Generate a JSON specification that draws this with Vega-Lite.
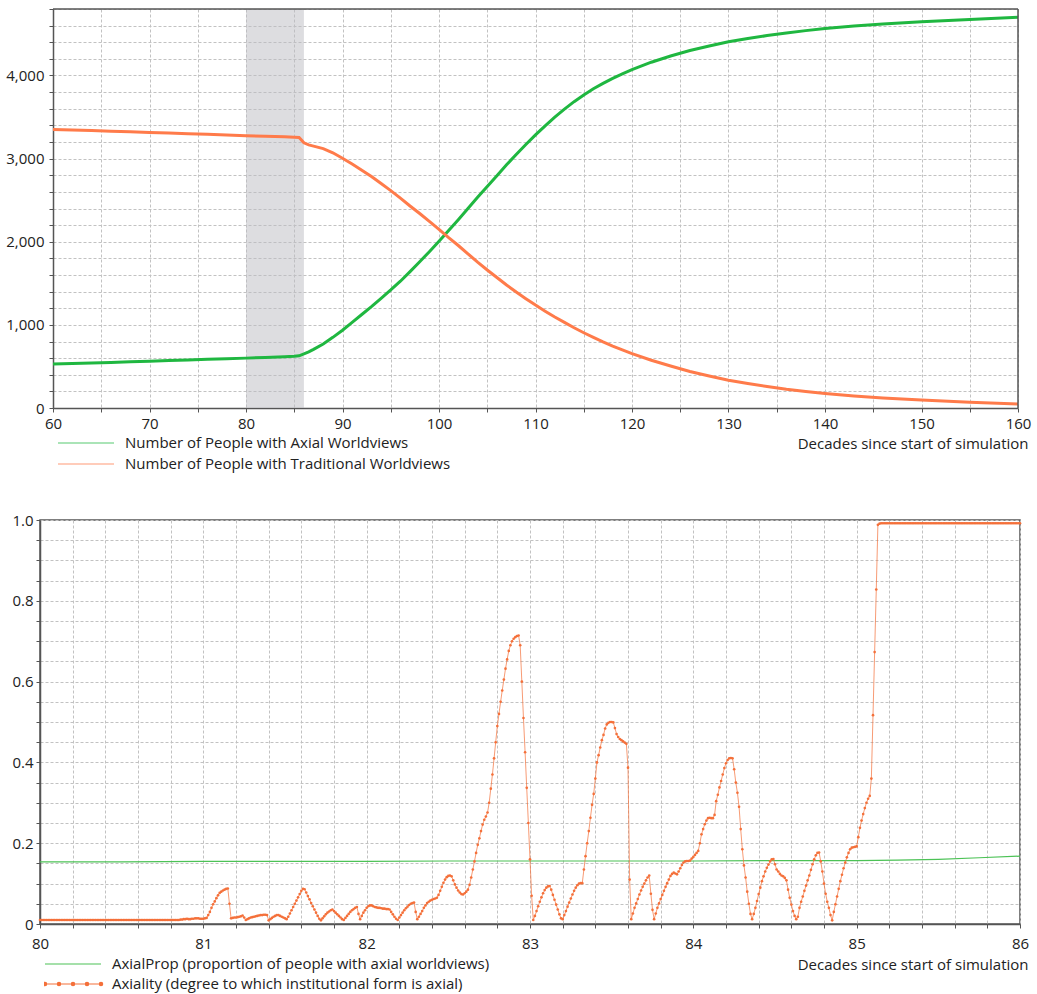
{
"$schema": "https://vega.github.io/schema/vega-lite/v6.json",
"background": "white",
"padding": {"left": 5, "top": 2, "right": 5, "bottom": 5},
"spacing": 40,
"config": {
  "font": "Open Sans",
  "view": {"stroke": null},
  "axis": {"labelFont": "Open Sans", "labelFontSize": 15, "labelColor": "#222", "domainColor": "#555", "domainWidth": 1.5, "tickColor": "#555", "tickSize": 4, "tickCount": 200, "gridColor": "#c2c2c2", "gridDash": [3, 2], "gridWidth": 1, "titleFont": "Open Sans", "titleFontSize": 15, "titleFontWeight": "normal", "titleColor": "#222", "labelFlush": false, "labelOverlap": false},
  "legend": {"symbolType": "stroke", "symbolSize": 3136, "symbolStrokeWidth": 1.2, "clipHeight": 16, "labelFont": "Open Sans", "labelFontSize": 15, "labelColor": "#222", "labelOffset": 10, "padding": 0, "orient": "none", "labelLimit": 600}
},
"resolve": {"scale": {"color": "independent"}},
"datasets": {
  "pop": [
    {"t":60,"axial":530,"trad":3350},{"t":62,"axial":535,"trad":3345},{"t":64,"axial":540,"trad":3338},{"t":66,"axial":548,"trad":3330},{"t":68,"axial":555,"trad":3322},{"t":70,"axial":562,"trad":3315},{"t":72,"axial":570,"trad":3308},{"t":74,"axial":577,"trad":3300},{"t":76,"axial":585,"trad":3292},{"t":78,"axial":593,"trad":3285},{"t":80,"axial":600,"trad":3275},{"t":82,"axial":608,"trad":3268},{"t":84,"axial":616,"trad":3262},{"t":85,"axial":622,"trad":3258},{"t":85.5,"axial":628,"trad":3255},{"t":86,"axial":650,"trad":3190},{"t":86.5,"axial":675,"trad":3165},{"t":87,"axial":705,"trad":3150},{"t":88,"axial":770,"trad":3120},{"t":89,"axial":850,"trad":3070},{"t":90,"axial":936,"trad":3005},{"t":91,"axial":1030,"trad":2935},{"t":92,"axial":1125,"trad":2860},{"t":93,"axial":1220,"trad":2785},{"t":94,"axial":1320,"trad":2700},{"t":95,"axial":1420,"trad":2615},{"t":96,"axial":1525,"trad":2525},{"t":97,"axial":1640,"trad":2430},{"t":98,"axial":1760,"trad":2340},{"t":99,"axial":1880,"trad":2245},{"t":100,"axial":2005,"trad":2150},{"t":101,"axial":2135,"trad":2050},{"t":102,"axial":2265,"trad":1955},{"t":103,"axial":2400,"trad":1855},{"t":104,"axial":2535,"trad":1755},{"t":105,"axial":2665,"trad":1660},{"t":106,"axial":2795,"trad":1570},{"t":107,"axial":2925,"trad":1480},{"t":108,"axial":3050,"trad":1395},{"t":109,"axial":3170,"trad":1315},{"t":110,"axial":3285,"trad":1238},{"t":111,"axial":3395,"trad":1165},{"t":112,"axial":3500,"trad":1095},{"t":113,"axial":3595,"trad":1030},{"t":114,"axial":3685,"trad":965},{"t":115,"axial":3765,"trad":905},{"t":116,"axial":3840,"trad":850},{"t":117,"axial":3905,"trad":795},{"t":118,"axial":3965,"trad":745},{"t":119,"axial":4020,"trad":700},{"t":120,"axial":4070,"trad":655},{"t":122,"axial":4160,"trad":575},{"t":124,"axial":4235,"trad":505},{"t":126,"axial":4300,"trad":440},{"t":128,"axial":4355,"trad":385},{"t":130,"axial":4405,"trad":335},{"t":132,"axial":4445,"trad":295},{"t":134,"axial":4480,"trad":258},{"t":136,"axial":4510,"trad":225},{"t":138,"axial":4540,"trad":198},{"t":140,"axial":4565,"trad":175},{"t":143,"axial":4595,"trad":145},{"t":146,"axial":4620,"trad":120},{"t":150,"axial":4648,"trad":95},{"t":155,"axial":4675,"trad":70},{"t":160,"axial":4700,"trad":48}
  ],
  "prop": [
    {"t":80,"v":0.154},{"t":80.5,"v":0.154},{"t":81,"v":0.155},{"t":81.5,"v":0.155},{"t":82,"v":0.155},{"t":82.5,"v":0.156},{"t":83,"v":0.156},{"t":83.5,"v":0.156},{"t":84,"v":0.156},{"t":84.5,"v":0.157},{"t":85,"v":0.157},{"t":85.25,"v":0.158},{"t":85.5,"v":0.16},{"t":85.75,"v":0.164},{"t":86,"v":0.168}
  ],
  "axiality": [
{"t":80,"v":0.01},{"t":80.01,"v":0.01},{"t":80.02,"v":0.01},{"t":80.03,"v":0.01},{"t":80.04,"v":0.01},{"t":80.05,"v":0.01},{"t":80.06,"v":0.01},{"t":80.07,"v":0.01},{"t":80.08,"v":0.01},{"t":80.09,"v":0.01},
{"t":80.1,"v":0.01},{"t":80.11,"v":0.01},{"t":80.12,"v":0.01},{"t":80.13,"v":0.01},{"t":80.14,"v":0.01},{"t":80.15,"v":0.01},{"t":80.16,"v":0.01},{"t":80.17,"v":0.01},{"t":80.18,"v":0.01},{"t":80.19,"v":0.01},
{"t":80.2,"v":0.01},{"t":80.21,"v":0.01},{"t":80.22,"v":0.01},{"t":80.23,"v":0.01},{"t":80.24,"v":0.01},{"t":80.25,"v":0.01},{"t":80.26,"v":0.01},{"t":80.27,"v":0.01},{"t":80.28,"v":0.01},{"t":80.29,"v":0.01},
{"t":80.3,"v":0.01},{"t":80.31,"v":0.01},{"t":80.32,"v":0.01},{"t":80.33,"v":0.01},{"t":80.34,"v":0.01},{"t":80.35,"v":0.01},{"t":80.36,"v":0.01},{"t":80.37,"v":0.01},{"t":80.38,"v":0.01},{"t":80.39,"v":0.01},
{"t":80.4,"v":0.01},{"t":80.41,"v":0.01},{"t":80.42,"v":0.01},{"t":80.43,"v":0.01},{"t":80.44,"v":0.01},{"t":80.45,"v":0.01},{"t":80.46,"v":0.01},{"t":80.47,"v":0.01},{"t":80.48,"v":0.01},{"t":80.49,"v":0.01},
{"t":80.5,"v":0.01},{"t":80.51,"v":0.01},{"t":80.52,"v":0.01},{"t":80.53,"v":0.01},{"t":80.54,"v":0.01},{"t":80.55,"v":0.01},{"t":80.56,"v":0.01},{"t":80.57,"v":0.01},{"t":80.58,"v":0.01},{"t":80.59,"v":0.01},
{"t":80.6,"v":0.01},{"t":80.61,"v":0.01},{"t":80.62,"v":0.01},{"t":80.63,"v":0.01},{"t":80.64,"v":0.01},{"t":80.65,"v":0.01},{"t":80.66,"v":0.01},{"t":80.67,"v":0.01},{"t":80.68,"v":0.01},{"t":80.69,"v":0.01},
{"t":80.7,"v":0.01},{"t":80.71,"v":0.01},{"t":80.72,"v":0.01},{"t":80.73,"v":0.01},{"t":80.74,"v":0.01},{"t":80.75,"v":0.01},{"t":80.76,"v":0.01},{"t":80.77,"v":0.01},{"t":80.78,"v":0.01},{"t":80.79,"v":0.01},
{"t":80.8,"v":0.01},{"t":80.81,"v":0.01},{"t":80.82,"v":0.01},{"t":80.83,"v":0.01},{"t":80.84,"v":0.01},{"t":80.85,"v":0.01},{"t":80.86,"v":0.011},{"t":80.87,"v":0.011},{"t":80.88,"v":0.012},{"t":80.89,"v":0.012},
{"t":80.9,"v":0.013},{"t":80.91,"v":0.012},{"t":80.92,"v":0.012},{"t":80.93,"v":0.013},{"t":80.94,"v":0.013},{"t":80.95,"v":0.014},{"t":80.96,"v":0.014},{"t":80.97,"v":0.014},{"t":80.98,"v":0.013},{"t":80.99,"v":0.013},
{"t":81,"v":0.013},{"t":81.01,"v":0.014},{"t":81.02,"v":0.015},{"t":81.03,"v":0.022},{"t":81.04,"v":0.03},{"t":81.05,"v":0.04},{"t":81.06,"v":0.049},{"t":81.07,"v":0.056},{"t":81.08,"v":0.064},{"t":81.09,"v":0.071},
{"t":81.1,"v":0.077},{"t":81.11,"v":0.08},{"t":81.12,"v":0.083},{"t":81.13,"v":0.085},{"t":81.14,"v":0.087},{"t":81.15,"v":0.088},{"t":81.16,"v":0.05},{"t":81.17,"v":0.014},{"t":81.18,"v":0.015},{"t":81.19,"v":0.016},
{"t":81.2,"v":0.016},{"t":81.21,"v":0.017},{"t":81.22,"v":0.018},{"t":81.23,"v":0.019},{"t":81.24,"v":0.021},{"t":81.25,"v":0.016},{"t":81.26,"v":0.01},{"t":81.27,"v":0.012},{"t":81.28,"v":0.014},{"t":81.29,"v":0.016},
{"t":81.3,"v":0.017},{"t":81.31,"v":0.018},{"t":81.32,"v":0.019},{"t":81.33,"v":0.02},{"t":81.34,"v":0.021},{"t":81.35,"v":0.022},{"t":81.36,"v":0.022},{"t":81.37,"v":0.023},{"t":81.38,"v":0.023},{"t":81.39,"v":0.022},
{"t":81.4,"v":0.009},{"t":81.41,"v":0.012},{"t":81.42,"v":0.015},{"t":81.43,"v":0.018},{"t":81.44,"v":0.02},{"t":81.45,"v":0.022},{"t":81.46,"v":0.022},{"t":81.47,"v":0.02},{"t":81.48,"v":0.018},{"t":81.49,"v":0.016},
{"t":81.5,"v":0.014},{"t":81.51,"v":0.012},{"t":81.52,"v":0.018},{"t":81.53,"v":0.026},{"t":81.54,"v":0.034},{"t":81.55,"v":0.042},{"t":81.56,"v":0.05},{"t":81.57,"v":0.058},{"t":81.58,"v":0.066},{"t":81.59,"v":0.074},
{"t":81.6,"v":0.082},{"t":81.61,"v":0.087},{"t":81.62,"v":0.086},{"t":81.63,"v":0.078},{"t":81.64,"v":0.069},{"t":81.65,"v":0.061},{"t":81.66,"v":0.052},{"t":81.67,"v":0.044},{"t":81.68,"v":0.036},{"t":81.69,"v":0.028},
{"t":81.7,"v":0.02},{"t":81.71,"v":0.013},{"t":81.72,"v":0.009},{"t":81.73,"v":0.014},{"t":81.74,"v":0.019},{"t":81.75,"v":0.024},{"t":81.76,"v":0.028},{"t":81.77,"v":0.031},{"t":81.78,"v":0.034},{"t":81.79,"v":0.036},
{"t":81.8,"v":0.032},{"t":81.81,"v":0.028},{"t":81.82,"v":0.024},{"t":81.83,"v":0.02},{"t":81.84,"v":0.016},{"t":81.85,"v":0.012},{"t":81.86,"v":0.01},{"t":81.87,"v":0.015},{"t":81.88,"v":0.02},{"t":81.89,"v":0.025},
{"t":81.9,"v":0.03},{"t":81.91,"v":0.034},{"t":81.92,"v":0.037},{"t":81.93,"v":0.04},{"t":81.94,"v":0.042},{"t":81.95,"v":0.025},{"t":81.96,"v":0.012},{"t":81.97,"v":0.02},{"t":81.98,"v":0.028},{"t":81.99,"v":0.034},
{"t":82,"v":0.04},{"t":82.01,"v":0.044},{"t":82.02,"v":0.046},{"t":82.03,"v":0.046},{"t":82.04,"v":0.044},{"t":82.05,"v":0.042},{"t":82.06,"v":0.041},{"t":82.07,"v":0.04},{"t":82.08,"v":0.04},{"t":82.09,"v":0.039},
{"t":82.1,"v":0.038},{"t":82.11,"v":0.038},{"t":82.12,"v":0.037},{"t":82.13,"v":0.037},{"t":82.14,"v":0.036},{"t":82.15,"v":0.03},{"t":82.16,"v":0.024},{"t":82.17,"v":0.018},{"t":82.18,"v":0.013},{"t":82.19,"v":0.01},
{"t":82.2,"v":0.016},{"t":82.21,"v":0.022},{"t":82.22,"v":0.028},{"t":82.23,"v":0.034},{"t":82.24,"v":0.039},{"t":82.25,"v":0.043},{"t":82.26,"v":0.047},{"t":82.27,"v":0.05},{"t":82.28,"v":0.052},{"t":82.29,"v":0.053},
{"t":82.3,"v":0.03},{"t":82.31,"v":0.012},{"t":82.32,"v":0.018},{"t":82.33,"v":0.025},{"t":82.34,"v":0.032},{"t":82.35,"v":0.04},{"t":82.36,"v":0.046},{"t":82.37,"v":0.052},{"t":82.38,"v":0.055},{"t":82.39,"v":0.058},
{"t":82.4,"v":0.06},{"t":82.41,"v":0.062},{"t":82.42,"v":0.063},{"t":82.43,"v":0.065},{"t":82.44,"v":0.072},{"t":82.45,"v":0.082},{"t":82.46,"v":0.092},{"t":82.47,"v":0.102},{"t":82.48,"v":0.11},{"t":82.49,"v":0.116},
{"t":82.5,"v":0.119},{"t":82.51,"v":0.12},{"t":82.52,"v":0.118},{"t":82.53,"v":0.108},{"t":82.54,"v":0.098},{"t":82.55,"v":0.09},{"t":82.56,"v":0.083},{"t":82.57,"v":0.078},{"t":82.58,"v":0.074},{"t":82.59,"v":0.073},
{"t":82.6,"v":0.076},{"t":82.61,"v":0.08},{"t":82.62,"v":0.085},{"t":82.63,"v":0.097},{"t":82.64,"v":0.115},{"t":82.65,"v":0.135},{"t":82.66,"v":0.155},{"t":82.67,"v":0.176},{"t":82.68,"v":0.196},{"t":82.69,"v":0.212},
{"t":82.7,"v":0.23},{"t":82.71,"v":0.246},{"t":82.72,"v":0.258},{"t":82.73,"v":0.266},{"t":82.74,"v":0.276},{"t":82.75,"v":0.3},{"t":82.76,"v":0.335},{"t":82.77,"v":0.37},{"t":82.78,"v":0.41},{"t":82.79,"v":0.45},
{"t":82.8,"v":0.49},{"t":82.81,"v":0.52},{"t":82.82,"v":0.55},{"t":82.83,"v":0.578},{"t":82.84,"v":0.605},{"t":82.85,"v":0.632},{"t":82.86,"v":0.655},{"t":82.87,"v":0.676},{"t":82.88,"v":0.69},{"t":82.89,"v":0.7},
{"t":82.9,"v":0.706},{"t":82.91,"v":0.71},{"t":82.92,"v":0.713},{"t":82.93,"v":0.714},{"t":82.94,"v":0.69},{"t":82.95,"v":0.6},{"t":82.96,"v":0.51},{"t":82.97,"v":0.425},{"t":82.98,"v":0.337},{"t":82.99,"v":0.25},
{"t":83,"v":0.16},{"t":83.01,"v":0.07},{"t":83.02,"v":0.01},{"t":83.03,"v":0.02},{"t":83.04,"v":0.032},{"t":83.05,"v":0.044},{"t":83.06,"v":0.055},{"t":83.07,"v":0.066},{"t":83.08,"v":0.076},{"t":83.09,"v":0.084},
{"t":83.1,"v":0.09},{"t":83.11,"v":0.093},{"t":83.12,"v":0.094},{"t":83.13,"v":0.085},{"t":83.14,"v":0.072},{"t":83.15,"v":0.06},{"t":83.16,"v":0.048},{"t":83.17,"v":0.036},{"t":83.18,"v":0.024},{"t":83.19,"v":0.014},
{"t":83.2,"v":0.012},{"t":83.21,"v":0.022},{"t":83.22,"v":0.032},{"t":83.23,"v":0.043},{"t":83.24,"v":0.053},{"t":83.25,"v":0.063},{"t":83.26,"v":0.073},{"t":83.27,"v":0.082},{"t":83.28,"v":0.09},{"t":83.29,"v":0.096},
{"t":83.3,"v":0.1},{"t":83.31,"v":0.101},{"t":83.32,"v":0.101},{"t":83.33,"v":0.135},{"t":83.34,"v":0.168},{"t":83.35,"v":0.2},{"t":83.36,"v":0.23},{"t":83.37,"v":0.263},{"t":83.38,"v":0.295},{"t":83.39,"v":0.322},
{"t":83.4,"v":0.36},{"t":83.41,"v":0.4},{"t":83.42,"v":0.418},{"t":83.43,"v":0.437},{"t":83.44,"v":0.455},{"t":83.45,"v":0.468},{"t":83.46,"v":0.484},{"t":83.47,"v":0.494},{"t":83.48,"v":0.498},{"t":83.49,"v":0.5},
{"t":83.5,"v":0.5},{"t":83.51,"v":0.499},{"t":83.52,"v":0.485},{"t":83.53,"v":0.47},{"t":83.54,"v":0.463},{"t":83.55,"v":0.458},{"t":83.56,"v":0.455},{"t":83.57,"v":0.452},{"t":83.58,"v":0.449},{"t":83.59,"v":0.446},
{"t":83.6,"v":0.387},{"t":83.61,"v":0.11},{"t":83.62,"v":0.012},{"t":83.63,"v":0.026},{"t":83.64,"v":0.04},{"t":83.65,"v":0.051},{"t":83.66,"v":0.062},{"t":83.67,"v":0.073},{"t":83.68,"v":0.083},{"t":83.69,"v":0.092},
{"t":83.7,"v":0.1},{"t":83.71,"v":0.108},{"t":83.72,"v":0.115},{"t":83.73,"v":0.12},{"t":83.74,"v":0.075},{"t":83.75,"v":0.035},{"t":83.76,"v":0.012},{"t":83.77,"v":0.026},{"t":83.78,"v":0.04},{"t":83.79,"v":0.051},
{"t":83.8,"v":0.062},{"t":83.81,"v":0.072},{"t":83.82,"v":0.082},{"t":83.83,"v":0.092},{"t":83.84,"v":0.101},{"t":83.85,"v":0.11},{"t":83.86,"v":0.119},{"t":83.87,"v":0.124},{"t":83.88,"v":0.127},{"t":83.89,"v":0.125},
{"t":83.9,"v":0.123},{"t":83.91,"v":0.13},{"t":83.92,"v":0.138},{"t":83.93,"v":0.146},{"t":83.94,"v":0.152},{"t":83.95,"v":0.155},{"t":83.96,"v":0.156},{"t":83.97,"v":0.156},{"t":83.98,"v":0.157},{"t":83.99,"v":0.162},
{"t":84,"v":0.166},{"t":84.01,"v":0.171},{"t":84.02,"v":0.176},{"t":84.03,"v":0.181},{"t":84.04,"v":0.2},{"t":84.05,"v":0.222},{"t":84.06,"v":0.235},{"t":84.07,"v":0.247},{"t":84.08,"v":0.256},{"t":84.09,"v":0.262},
{"t":84.1,"v":0.263},{"t":84.11,"v":0.262},{"t":84.12,"v":0.262},{"t":84.13,"v":0.27},{"t":84.14,"v":0.304},{"t":84.15,"v":0.32},{"t":84.16,"v":0.338},{"t":84.17,"v":0.354},{"t":84.18,"v":0.37},{"t":84.19,"v":0.386},
{"t":84.2,"v":0.398},{"t":84.21,"v":0.406},{"t":84.22,"v":0.41},{"t":84.23,"v":0.411},{"t":84.24,"v":0.41},{"t":84.25,"v":0.383},{"t":84.26,"v":0.35},{"t":84.27,"v":0.325},{"t":84.28,"v":0.29},{"t":84.29,"v":0.235},
{"t":84.3,"v":0.185},{"t":84.31,"v":0.145},{"t":84.32,"v":0.115},{"t":84.33,"v":0.08},{"t":84.34,"v":0.05},{"t":84.35,"v":0.025},{"t":84.36,"v":0.012},{"t":84.37,"v":0.025},{"t":84.38,"v":0.04},{"t":84.39,"v":0.057},
{"t":84.4,"v":0.074},{"t":84.41,"v":0.09},{"t":84.42,"v":0.106},{"t":84.43,"v":0.118},{"t":84.44,"v":0.13},{"t":84.45,"v":0.139},{"t":84.46,"v":0.147},{"t":84.47,"v":0.155},{"t":84.48,"v":0.16},{"t":84.49,"v":0.161},
{"t":84.5,"v":0.148},{"t":84.51,"v":0.135},{"t":84.52,"v":0.13},{"t":84.53,"v":0.124},{"t":84.54,"v":0.12},{"t":84.55,"v":0.118},{"t":84.56,"v":0.114},{"t":84.57,"v":0.108},{"t":84.58,"v":0.085},{"t":84.59,"v":0.065},
{"t":84.6,"v":0.048},{"t":84.61,"v":0.032},{"t":84.62,"v":0.02},{"t":84.63,"v":0.012},{"t":84.64,"v":0.018},{"t":84.65,"v":0.04},{"t":84.66,"v":0.055},{"t":84.67,"v":0.068},{"t":84.68,"v":0.082},{"t":84.69,"v":0.095},
{"t":84.7,"v":0.108},{"t":84.71,"v":0.12},{"t":84.72,"v":0.134},{"t":84.73,"v":0.148},{"t":84.74,"v":0.16},{"t":84.75,"v":0.17},{"t":84.76,"v":0.176},{"t":84.77,"v":0.177},{"t":84.78,"v":0.155},{"t":84.79,"v":0.13},
{"t":84.8,"v":0.1},{"t":84.81,"v":0.075},{"t":84.82,"v":0.055},{"t":84.83,"v":0.04},{"t":84.84,"v":0.022},{"t":84.85,"v":0.009},{"t":84.86,"v":0.03},{"t":84.87,"v":0.049},{"t":84.88,"v":0.068},{"t":84.89,"v":0.087},
{"t":84.9,"v":0.106},{"t":84.91,"v":0.122},{"t":84.92,"v":0.138},{"t":84.93,"v":0.152},{"t":84.94,"v":0.165},{"t":84.95,"v":0.176},{"t":84.96,"v":0.185},{"t":84.97,"v":0.189},{"t":84.98,"v":0.19},{"t":84.99,"v":0.191},
{"t":85,"v":0.192},{"t":85.01,"v":0.215},{"t":85.02,"v":0.238},{"t":85.03,"v":0.256},{"t":85.04,"v":0.272},{"t":85.05,"v":0.287},{"t":85.06,"v":0.3},{"t":85.07,"v":0.31},{"t":85.08,"v":0.317},{"t":85.09,"v":0.36},
{"t":85.1,"v":0.517},{"t":85.11,"v":0.673},{"t":85.12,"v":0.828},{"t":85.13,"v":0.988},{"t":85.14,"v":0.991},{"t":85.15,"v":0.992},{"t":85.16,"v":0.992},{"t":85.17,"v":0.992},{"t":85.18,"v":0.992},{"t":85.19,"v":0.992},
{"t":85.2,"v":0.992},{"t":85.21,"v":0.992},{"t":85.22,"v":0.992},{"t":85.23,"v":0.992},{"t":85.24,"v":0.992},{"t":85.25,"v":0.992},{"t":85.26,"v":0.992},{"t":85.27,"v":0.992},{"t":85.28,"v":0.992},{"t":85.29,"v":0.992},
{"t":85.3,"v":0.992},{"t":85.31,"v":0.992},{"t":85.32,"v":0.992},{"t":85.33,"v":0.992},{"t":85.34,"v":0.992},{"t":85.35,"v":0.992},{"t":85.36,"v":0.992},{"t":85.37,"v":0.992},{"t":85.38,"v":0.992},{"t":85.39,"v":0.992},
{"t":85.4,"v":0.992},{"t":85.41,"v":0.992},{"t":85.42,"v":0.992},{"t":85.43,"v":0.992},{"t":85.44,"v":0.992},{"t":85.45,"v":0.992},{"t":85.46,"v":0.992},{"t":85.47,"v":0.992},{"t":85.48,"v":0.992},{"t":85.49,"v":0.992},
{"t":85.5,"v":0.992},{"t":85.51,"v":0.992},{"t":85.52,"v":0.992},{"t":85.53,"v":0.992},{"t":85.54,"v":0.992},{"t":85.55,"v":0.992},{"t":85.56,"v":0.992},{"t":85.57,"v":0.992},{"t":85.58,"v":0.992},{"t":85.59,"v":0.992},
{"t":85.6,"v":0.992},{"t":85.61,"v":0.992},{"t":85.62,"v":0.992},{"t":85.63,"v":0.992},{"t":85.64,"v":0.992},{"t":85.65,"v":0.992},{"t":85.66,"v":0.992},{"t":85.67,"v":0.992},{"t":85.68,"v":0.992},{"t":85.69,"v":0.992},
{"t":85.7,"v":0.992},{"t":85.71,"v":0.992},{"t":85.72,"v":0.992},{"t":85.73,"v":0.992},{"t":85.74,"v":0.992},{"t":85.75,"v":0.992},{"t":85.76,"v":0.992},{"t":85.77,"v":0.992},{"t":85.78,"v":0.992},{"t":85.79,"v":0.992},
{"t":85.8,"v":0.992},{"t":85.81,"v":0.992},{"t":85.82,"v":0.992},{"t":85.83,"v":0.992},{"t":85.84,"v":0.992},{"t":85.85,"v":0.992},{"t":85.86,"v":0.992},{"t":85.87,"v":0.992},{"t":85.88,"v":0.992},{"t":85.89,"v":0.992},
{"t":85.9,"v":0.992},{"t":85.91,"v":0.992},{"t":85.92,"v":0.992},{"t":85.93,"v":0.992},{"t":85.94,"v":0.992},{"t":85.95,"v":0.992},{"t":85.96,"v":0.992},{"t":85.97,"v":0.992},{"t":85.98,"v":0.992},{"t":85.99,"v":0.992},
{"t":86,"v":0.992}
  ]
},
"vconcat": [
  {
    "width": 978,
    "height": 399,
    "layer": [
      {
        "data": {"values": [{"start": 80, "end": 86}]},
        "mark": {"type": "rect", "color": "#bcbcc1", "opacity": 0.5},
        "encoding": {
          "x": {"field": "start", "type": "quantitative"},
          "x2": {"field": "end"}
        }
      },
      {
        "data": {"name": "pop"},
        "transform": [{"fold": ["axial", "trad"], "as": ["series", "value"]}],
        "mark": {"type": "line", "strokeWidth": 3},
        "encoding": {
          "x": {"field": "t", "type": "quantitative",
            "scale": {"domain": [60, 160], "range": [13, 978], "nice": false, "zero": false},
            "axis": {"values": [60,65,70,75,80,85,90,95,100,105,110,115,120,125,130,135,140,145,150,155,160],
              "tickCount": 200,
              "labelExpr": "datum.value % 10 === 0 ? format(datum.value, '.0f') : ''",
              "title": "Decades since start of simulation", "titleX": 988, "titleY": 40, "titleAlign": "right", "titleAnchor": "end", "titleBaseline": "alphabetic",
              "labelPadding": 4, "grid": true}},
          "y": {"field": "value", "type": "quantitative",
            "scale": {"domain": [0, 4800], "nice": false},
            "axis": {"values": [0,200,400,600,800,1000,1200,1400,1600,1800,2000,2200,2400,2600,2800,3000,3200,3400,3600,3800,4000,4200,4400,4600,4800],
              "tickCount": 200,
              "labelExpr": "datum.value % 1000 === 0 ? format(datum.value, ',') : ''",
              "title": null, "offset": -13, "labelPadding": 5, "grid": true}},
          "color": {"field": "series", "type": "nominal",
            "scale": {"domain": ["axial", "trad"], "range": ["#1fb740", "#ff7b4a"]},
            "legend": {"title": null, "legendX": 17, "legendY": 426, "rowPadding": 5, "symbolOpacity": 0.75,
              "labelExpr": "datum.value === 'axial' ? 'Number of People with Axial Worldviews' : 'Number of People with Traditional Worldviews'"}}
        }
      },
      {
        "data": {"values": [{}]},
        "mark": {"type": "rule", "color": "#555", "strokeWidth": 1.5},
        "encoding": {"x": {"datum": 60}, "x2": {"datum": 160}, "y": {"datum": 4800}}
      },
      {
        "data": {"values": [{}]},
        "mark": {"type": "rule", "color": "#555", "strokeWidth": 1.5},
        "encoding": {"x": {"datum": 160}, "y": {"datum": 0}, "y2": {"datum": 4800}}
      }
    ]
  },
  {
    "width": 980,
    "height": 404,
    "view": {"stroke": "#555", "strokeWidth": 1.5},
    "layer": [
      {
        "data": {"name": "prop"},
        "mark": {"type": "line", "strokeWidth": 1.2},
        "encoding": {
          "x": {"field": "t", "type": "quantitative",
            "scale": {"domain": [80, 86], "nice": false, "zero": false},
            "axis": {"values": [80,80.2,80.4,80.6,80.8,81,81.2,81.4,81.6,81.8,82,82.2,82.4,82.6,82.8,83,83.2,83.4,83.6,83.8,84,84.2,84.4,84.6,84.8,85,85.2,85.4,85.6,85.8,86],
              "tickCount": 200,
              "labelExpr": "datum.value % 1 === 0 ? format(datum.value, '.0f') : ''",
              "title": "Decades since start of simulation", "titleX": 988, "titleY": 45, "titleAlign": "right", "titleAnchor": "end", "titleBaseline": "alphabetic",
              "labelPadding": 8, "grid": true}},
          "y": {"field": "v", "type": "quantitative",
            "scale": {"domain": [0, 1], "nice": false},
            "axis": {"values": [0,0.05,0.1,0.15,0.2,0.25,0.3,0.35,0.4,0.45,0.5,0.55,0.6,0.65,0.7,0.75,0.8,0.85,0.9,0.95,1],
              "tickCount": 200,
              "labelExpr": "indexof([0,0.2,0.4,0.6,0.8,1], datum.value) >= 0 ? (datum.value === 0 ? '0' : format(datum.value, '.1f')) : ''",
              "title": null, "labelPadding": 3, "grid": true}},
          "color": {"datum": "AxialProp (proportion of people with axial worldviews)",
            "scale": {"domain": ["AxialProp (proportion of people with axial worldviews)", "Axiality (degree to which institutional form is axial)"], "range": ["#4cc256", "#f4703a"]},
            "legend": {"title": null, "legendX": 4, "legendY": 436, "rowPadding": 4,
              "encode": {"symbols": {"update": {
                "shape": {"signal": "datum.value === 'Axiality (degree to which institutional form is axial)' ? 'M-1,0L1,0M-1.06,0A0.06,0.06,0,1,0,-0.94,0A0.06,0.06,0,1,0,-1.06,0ZM-0.56,0A0.06,0.06,0,1,0,-0.44,0A0.06,0.06,0,1,0,-0.56,0ZM-0.06,0A0.06,0.06,0,1,0,0.06,0A0.06,0.06,0,1,0,-0.06,0ZM0.44,0A0.06,0.06,0,1,0,0.56,0A0.06,0.06,0,1,0,0.44,0ZM0.94,0A0.06,0.06,0,1,0,1.06,0A0.06,0.06,0,1,0,0.94,0Z' : 'stroke'"},
                "fill": {"value": "#f4703a"}
              }}}}}
        }
      },
      {
        "data": {"name": "axiality"},
        "mark": {"type": "line", "strokeWidth": 1, "strokeOpacity": 0.7, "point": {"filled": true, "size": 7, "opacity": 1}},
        "encoding": {
          "x": {"field": "t", "type": "quantitative"},
          "y": {"field": "v", "type": "quantitative"},
          "color": {"datum": "Axiality (degree to which institutional form is axial)"}
        }
      }
    ]
  }
]
}
